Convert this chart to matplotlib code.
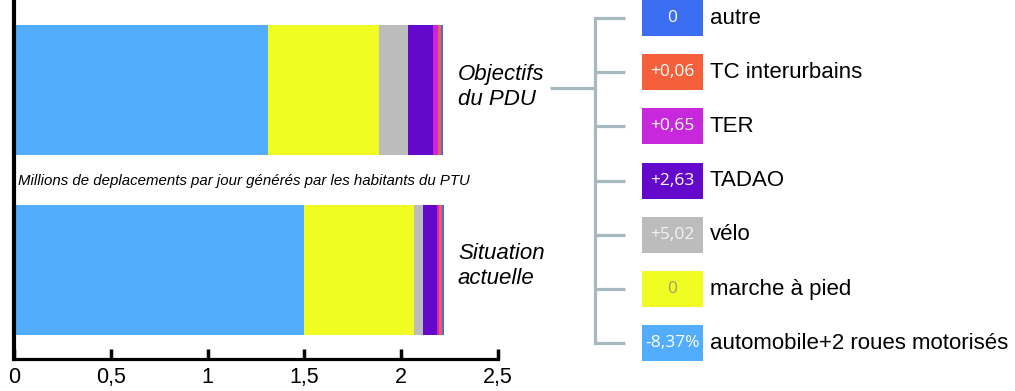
import matplotlib
matplotlib.use("Agg")
import matplotlib.pyplot as plt
from matplotlib.patches import Rectangle

plt.rcParams['font.family'] = ['Liberation Sans', 'DejaVu Sans']

# ---- data ----
categories = ["automobile+2 roues motorisés", "marche à pied", "vélo", "TADAO",
              "TER", "TC interurbains", "autre"]
situation_actuelle = [1.497, 0.571, 0.044, 0.072, 0.010, 0.016, 0.010]
objectifs_pdu = [1.313, 0.571, 0.152, 0.129, 0.023, 0.016, 0.013]
changes = ["-8,37%", "0", "+5,02", "+2,63", "+0,65", "+0,06", "0"]
bar_labels = ["Situation\nactuelle", "Objectifs\ndu PDU"]
xticks = [0, 0.5, 1, 1.5, 2, 2.5]
xtick_labels = ["0", "0,5", "1", "1,5", "2", "2,5"]
subtitle = "Millions de deplacements par jour générés par les habitants du PTU"

colors = ["#52aefc", "#f0fc22", "#bcbcbc", "#6408cc", "#c828dc", "#f5603a", "#3c6ef2"]
box_text_colors = ["white", "#a0a070", "#f4f4f4", "white", "white", "white", "white"]

W, H = 1015, 391
fig = plt.figure(figsize=(W / 100, H / 100), dpi=100)

# main axes
x_left, x_right, y_bottom, y_top = 14, 498, 359, 0
ax = fig.add_axes([x_left / W, (H - y_bottom) / H, (x_right - x_left) / W, (y_bottom - y_top) / H])
series = [situation_actuelle, objectifs_pdu]
for yi, vals in enumerate(series):
    left = 0
    for v, c in zip(vals, colors):
        ax.barh(yi, v, left=left, height=0.722, color=c, linewidth=0)
        left += v
ax.set_xlim(0, 2.5)
ax.set_ylim(-0.494, 1.5)
ax.set_yticks([])
ax.set_xticks(xticks)
ax.set_xticklabels(xtick_labels, fontsize=15.5)
ax.tick_params(axis='x', direction='in', length=7, width=2.5, pad=6)
for s in ['top', 'right']:
    ax.spines[s].set_visible(False)
ax.spines['left'].set_linewidth(3)
ax.spines['bottom'].set_linewidth(2.3)

# overlay axes in pixel coordinates
ov = fig.add_axes([0, 0, 1, 1], facecolor='none')
ov.set_xlim(0, W)
ov.set_ylim(H, 0)
ov.axis('off')

ov.text(18, 181, subtitle, fontsize=10.8, style='italic', ha='left', va='center')
ov.text(458, 87, bar_labels[1], fontsize=16, style='italic', ha='left', va='center',
        linespacing=1.25)
ov.text(458, 266, bar_labels[0], fontsize=16, style='italic', ha='left', va='center',
        linespacing=1.25)

line_c = "#a6b9c1"
row_y = [18 + i * 54.2 for i in range(7)]
ov.plot([550, 595], [88, 88], color=line_c, lw=2.3, solid_capstyle='butt')
ov.plot([595, 595], [row_y[0], row_y[-1]], color=line_c, lw=2.3, solid_capstyle='projecting')
for y in row_y:
    ov.plot([595, 625], [y, y], color=line_c, lw=2.3, solid_capstyle='butt')

legend_order = list(range(len(categories)))[::-1]
for y, idx in zip(row_y, legend_order):
    ov.add_patch(Rectangle((642, y - 18), 61, 36, facecolor=colors[idx], edgecolor='none'))
    ov.text(672.5, y, changes[idx], fontsize=12.5, family=['Open Sans', 'DejaVu Sans'],
            color=box_text_colors[idx], ha='center', va='center')
    ov.text(710, y, categories[idx], fontsize=16, ha='left', va='center')

fig.savefig("out.png", dpi=100)
